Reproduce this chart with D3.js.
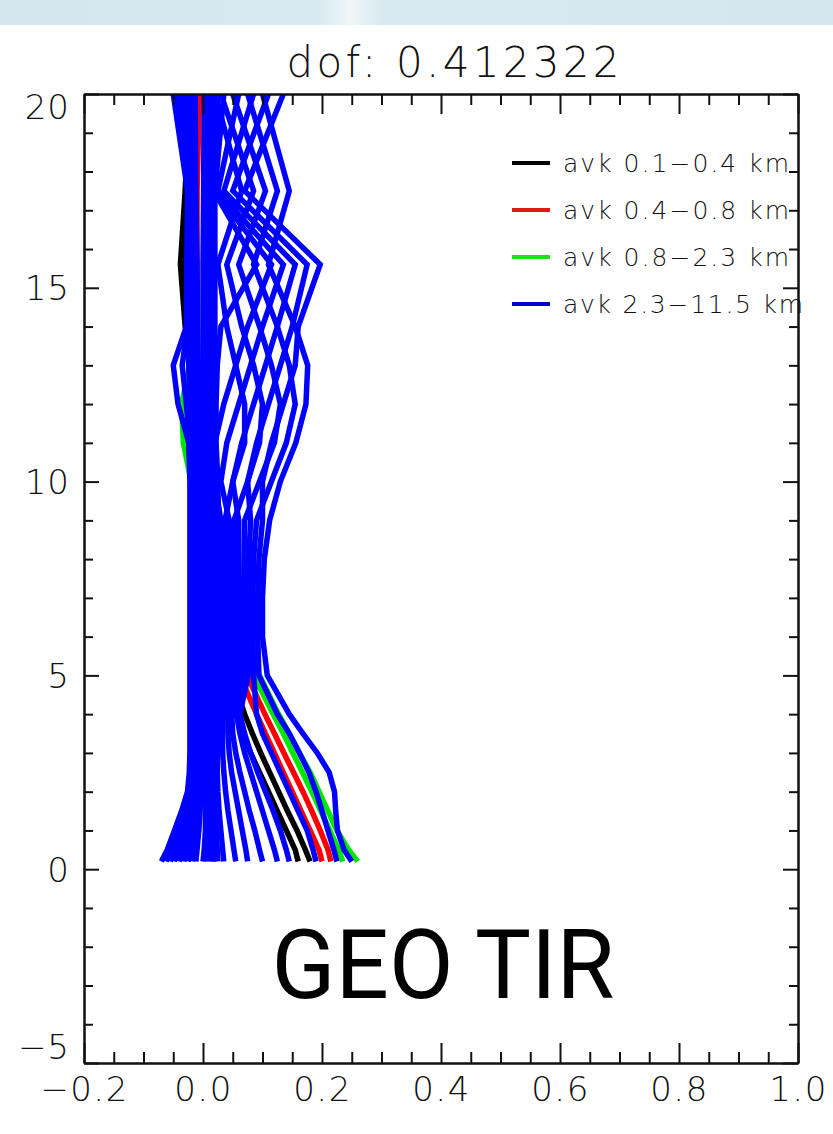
<!DOCTYPE html>
<html>
<head>
<meta charset="utf-8">
<script src="https://cdn.jsdelivr.net/npm/d3@7/dist/d3.min.js"></script>
<style>
  body { margin: 0; background: #fff; }
  svg { display: block; }
</style>
</head>
<body>
<div id="container"></div>
<script>
// altitude grid of the kernels (km)
let altitudes = [0.2, 0.5, 1.0, 1.5, 2.0, 2.5, 3.0, 3.5, 4.0, 5.0, 6.0, 7.0, 8.0, 9.0, 10.0, 11.0, 12.0, 13.0, 14.0, 15.6, 17.5, 20.0];

// kernel rows, one value per altitude
let avkBlack = [
  [0.16, 0.155, 0.14, 0.125, 0.11, 0.095, 0.08, 0.068, 0.055, 0.035, 0.02, 0.01, 0.0, -0.005, -0.01, -0.015, -0.02, -0.02, -0.03, -0.038, -0.03, -0.022],
  [0.18, 0.172, 0.158, 0.142, 0.127, 0.112, 0.097, 0.083, 0.07, 0.048, 0.03, 0.015, 0.005, 0.0, -0.005, -0.01, -0.015, -0.018, -0.025, -0.033, -0.026, -0.02]
];
let avkRed = [
  [0.2, 0.195, 0.18, 0.165, 0.15, 0.135, 0.12, 0.105, 0.09, 0.062, 0.04, 0.022, 0.01, 0.0, -0.008, -0.01, -0.011, -0.011, -0.011, -0.011, -0.01, -0.006],
  [0.215, 0.21, 0.197, 0.183, 0.168, 0.152, 0.136, 0.12, 0.104, 0.074, 0.048, 0.028, 0.014, 0.003, -0.007, -0.01, -0.01, -0.01, -0.01, -0.01, -0.011, -0.011]
];
let avkGreen = [
  [0.235, 0.228, 0.213, 0.198, 0.183, 0.167, 0.151, 0.135, 0.118, 0.085, 0.058, 0.036, 0.018, 0.005, -0.02, -0.033, -0.036, -0.022, -0.018, -0.018, -0.017, -0.018],
  [0.26, 0.245, 0.225, 0.21, 0.195, 0.18, 0.162, 0.145, 0.127, 0.095, 0.066, 0.04, 0.022, 0.008, -0.012, -0.028, -0.03, -0.02, -0.017, -0.017, -0.016, -0.017]
];
let avkBlue = [
  // core, left side
  [-0.07, -0.06, -0.048, -0.036, -0.026, -0.023, -0.022, -0.022, -0.022, -0.022, -0.022, -0.022, -0.022, -0.022, -0.022, -0.024, -0.042, -0.05, -0.028, -0.027, -0.026, -0.05],
  [-0.062, -0.054, -0.043, -0.032, -0.024, -0.021, -0.021, -0.021, -0.021, -0.021, -0.021, -0.021, -0.021, -0.021, -0.021, -0.022, -0.028, -0.035, -0.026, -0.025, -0.025, -0.045],
  [-0.055, -0.048, -0.038, -0.028, -0.022, -0.02, -0.02, -0.02, -0.02, -0.02, -0.02, -0.02, -0.02, -0.02, -0.02, -0.02, -0.022, -0.024, -0.025, -0.027, -0.024, -0.04],
  [-0.048, -0.042, -0.033, -0.024, -0.019, -0.018, -0.018, -0.018, -0.018, -0.018, -0.018, -0.018, -0.018, -0.018, -0.018, -0.018, -0.02, -0.021, -0.022, -0.024, -0.022, -0.035],
  [-0.04, -0.035, -0.028, -0.02, -0.016, -0.015, -0.015, -0.015, -0.016, -0.017, -0.017, -0.017, -0.017, -0.016, -0.016, -0.016, -0.017, -0.018, -0.02, -0.022, -0.02, -0.03],
  [-0.032, -0.028, -0.022, -0.016, -0.012, -0.013, -0.013, -0.013, -0.014, -0.014, -0.014, -0.014, -0.014, -0.014, -0.014, -0.014, -0.015, -0.016, -0.017, -0.019, -0.018, -0.025],
  [-0.025, -0.02, -0.015, -0.01, -0.008, -0.01, -0.012, -0.012, -0.012, -0.012, -0.012, -0.012, -0.012, -0.012, -0.012, -0.012, -0.012, -0.013, -0.014, -0.016, -0.016, -0.02],
  [-0.018, -0.015, -0.011, -0.008, -0.006, -0.008, -0.009, -0.01, -0.01, -0.01, -0.01, -0.009, -0.009, -0.009, -0.009, -0.01, -0.01, -0.011, -0.012, -0.013, -0.014, -0.016],
  [-0.012, -0.01, -0.007, -0.005, -0.004, -0.005, -0.006, -0.007, -0.007, -0.007, -0.007, -0.006, -0.006, -0.006, -0.006, -0.007, -0.007, -0.008, -0.009, -0.01, -0.012, -0.013],
  // core, right side
  [0.0, 0.002, 0.004, 0.004, 0.003, 0.002, 0.0, 0.0, 0.0, 0.0, 0.0, 0.0, 0.0, 0.0, 0.0, 0.0, 0.0, 0.0, 0.0, 0.0, 0.001, 0.002],
  [0.005, 0.006, 0.008, 0.008, 0.007, 0.006, 0.004, 0.004, 0.004, 0.005, 0.005, 0.005, 0.005, 0.005, 0.005, 0.005, 0.005, 0.005, 0.005, 0.005, 0.006, 0.007],
  [0.01, 0.011, 0.012, 0.011, 0.01, 0.009, 0.008, 0.008, 0.008, 0.009, 0.01, 0.01, 0.01, 0.01, 0.01, 0.01, 0.01, 0.01, 0.01, 0.01, 0.01, 0.012],
  [0.014, 0.015, 0.016, 0.015, 0.014, 0.013, 0.012, 0.012, 0.013, 0.015, 0.016, 0.016, 0.016, 0.015, 0.015, 0.015, 0.015, 0.015, 0.015, 0.015, 0.015, 0.017],
  [0.018, 0.02, 0.021, 0.02, 0.018, 0.017, 0.016, 0.016, 0.017, 0.02, 0.022, 0.022, 0.021, 0.02, 0.02, 0.02, 0.02, 0.02, 0.02, 0.02, 0.02, 0.022],
  [0.018, 0.017, 0.016, 0.015, 0.015, 0.016, 0.018, 0.02, 0.022, 0.024, 0.024, 0.024, 0.025, 0.026, 0.025, 0.022, 0.022, 0.024, 0.03, 0.09, 0.018, 0.025],
  // rows leaning right with height above 10 km
  [0.225, 0.22, 0.21, 0.2, 0.19, 0.178, 0.162, 0.145, 0.125, 0.094, 0.092, 0.092, 0.094, 0.1, 0.1, 0.115, 0.135, 0.155, 0.16, 0.197, 0.07, 0.135],
  [0.145, 0.14, 0.13, 0.118, 0.105, 0.092, 0.08, 0.07, 0.062, 0.076, 0.076, 0.076, 0.077, 0.08, 0.075, 0.09, 0.11, 0.13, 0.15, 0.175, 0.05, 0.11],
  [0.1, 0.095, 0.087, 0.078, 0.07, 0.062, 0.055, 0.05, 0.048, 0.06, 0.06, 0.06, 0.06, 0.06, 0.05, 0.065, 0.085, 0.105, 0.125, 0.155, 0.035, 0.085],
  [0.055, 0.052, 0.047, 0.042, 0.038, 0.035, 0.033, 0.033, 0.034, 0.044, 0.044, 0.044, 0.044, 0.044, 0.03, 0.04, 0.06, 0.08, 0.1, 0.135, 0.025, 0.06],
  [0.025, 0.024, 0.022, 0.02, 0.019, 0.019, 0.02, 0.022, 0.024, 0.029, 0.029, 0.029, 0.03, 0.03, 0.02, 0.02, 0.035, 0.055, 0.075, 0.115, 0.02, 0.035],
  // rows leaning left with height above 12 km
  [0.25, 0.237, 0.226, 0.223, 0.221, 0.212, 0.192, 0.168, 0.145, 0.108, 0.1, 0.1, 0.103, 0.112, 0.13, 0.156, 0.173, 0.176, 0.155, 0.11, 0.145, 0.1],
  [0.19, 0.185, 0.175, 0.16, 0.145, 0.13, 0.115, 0.1, 0.09, 0.085, 0.084, 0.084, 0.085, 0.09, 0.115, 0.14, 0.155, 0.145, 0.125, 0.085, 0.125, 0.075],
  [0.125, 0.12, 0.11, 0.1, 0.09, 0.08, 0.07, 0.062, 0.056, 0.068, 0.068, 0.068, 0.069, 0.07, 0.095, 0.12, 0.13, 0.115, 0.095, 0.06, 0.105, 0.05],
  [0.075, 0.072, 0.066, 0.06, 0.054, 0.048, 0.044, 0.042, 0.042, 0.052, 0.052, 0.052, 0.052, 0.052, 0.075, 0.095, 0.1, 0.085, 0.065, 0.04, 0.085, 0.03],
  [0.035, 0.033, 0.03, 0.027, 0.025, 0.024, 0.024, 0.025, 0.027, 0.036, 0.036, 0.036, 0.036, 0.037, 0.05, 0.07, 0.07, 0.055, 0.04, 0.025, 0.065, 0.02]
];

let legendLabels = ["avk 0.1\u22120.4 km", "avk 0.4\u22120.8 km", "avk 0.8\u22122.3 km", "avk 2.3\u221211.5 km"];
let xTicks = [-0.2, 0.0, 0.2, 0.4, 0.6, 0.8, 1.0];
let yTicks = [-5, 0, 5, 10, 15, 20];
let titleText = "dof: 0.412322";
let stampText = "GEO TIR";

let w = 833;
let h = 1134;
let plotLeft = 84, plotRight = 798, plotTop = 94, plotBottom = 1063;
let thinFont = "'DejaVu Sans', sans-serif";

let viz = d3.select("#container")
  .append("svg")
    .attr("width", w)
    .attr("height", h)
;

// the light blue strip of the slide behind the plot
let band = viz.append("defs").append("linearGradient").attr("id", "band");
band.append("stop").attr("offset", "0%").attr("stop-color", "#d3e6ee");
band.append("stop").attr("offset", "38%").attr("stop-color", "#d8e9f0");
band.append("stop").attr("offset", "42%").attr("stop-color", "#eef6f9");
band.append("stop").attr("offset", "46%").attr("stop-color", "#d9e9f0");
band.append("stop").attr("offset", "100%").attr("stop-color", "#d3e6ee");
viz.append("rect").attr("x", 0).attr("y", 0).attr("width", w).attr("height", 25).attr("fill", "url(#band)");

let xScale = d3.scaleLinear().domain([-0.2, 1.0]).range([plotLeft, plotRight]);
let yScale = d3.scaleLinear().domain([-5, 20]).range([plotBottom, plotTop]);

viz.select("defs").append("clipPath").attr("id", "plotclip")
  .append("rect")
    .attr("x", plotLeft).attr("y", plotTop)
    .attr("width", plotRight - plotLeft).attr("height", plotBottom - plotTop);

// kernels: black first, blue last so blue sits on top like in the IDL plot
let groups = [
  {rows: avkBlack, color: "#000000"},
  {rows: avkRed, color: "#ff0000"},
  {rows: avkGreen, color: "#00e600"},
  {rows: avkBlue, color: "#0000ff"}
];

let kernelLine = d3.line()
  .x(function(d){ return xScale(d); })
  .y(function(d, i){ return yScale(altitudes[i]); });

let graphGroup = viz.append("g").classed("graphGroup", true).attr("clip-path", "url(#plotclip)");

groups.forEach(function(g){
  graphGroup.append("g")
    .selectAll("path")
    .data(g.rows)
    .enter()
    .append("path")
      .attr("d", kernelLine)
      .attr("fill", "none")
      .attr("stroke", g.color)
      .attr("stroke-width", 5.5)
      .attr("stroke-linejoin", "miter")
      .attr("stroke-miterlimit", 10);
});

// minor tick positions (every 0.05 and every 1 km)
let xMinor = d3.range(0, 25).filter(i => i % 4 != 0).map(i => -0.2 + i * 0.05);
let yMinor = d3.range(-5, 21).filter(v => v % 5 != 0);

function styleAxis(sel){
  sel.select(".domain").attr("stroke", "#111").attr("stroke-width", 2);
  sel.selectAll(".tick line").attr("stroke", "#111").attr("stroke-width", 2);
  sel.selectAll("text")
    .attr("font-family", thinFont)
    .attr("font-weight", 200)
    .attr("font-size", 34)
    .attr("fill", "#111");
}

// bottom
let xAxis = d3.axisBottom(xScale).tickValues(xTicks).tickSize(-20).tickSizeOuter(0).tickPadding(14)
  .tickFormat(d3.format(".1f"));
let xAxisGroup = viz.append("g").attr("transform", "translate(0," + plotBottom + ")").call(xAxis);
styleAxis(xAxisGroup);
xAxisGroup.selectAll("text").attr("letter-spacing", 1.5);
let xMinorGroup = viz.append("g").attr("transform", "translate(0," + plotBottom + ")")
  .call(d3.axisBottom(xScale).tickValues(xMinor).tickSize(-11).tickSizeOuter(0).tickFormat(""));
styleAxis(xMinorGroup);

// top
let topGroup = viz.append("g").attr("transform", "translate(0," + plotTop + ")")
  .call(d3.axisTop(xScale).tickValues(xTicks).tickSize(-20).tickSizeOuter(0).tickFormat(""));
styleAxis(topGroup);
let topMinor = viz.append("g").attr("transform", "translate(0," + plotTop + ")")
  .call(d3.axisTop(xScale).tickValues(xMinor).tickSize(-11).tickSizeOuter(0).tickFormat(""));
styleAxis(topMinor);

// left
let yAxis = d3.axisLeft(yScale).tickValues(yTicks).tickSize(-15).tickSizeOuter(0).tickPadding(14)
  .tickFormat(d3.format("d"));
let yAxisGroup = viz.append("g").attr("transform", "translate(" + plotLeft + ",0)").call(yAxis);
styleAxis(yAxisGroup);
yAxisGroup.selectAll("text")
  .attr("letter-spacing", 1)
  .attr("dy", function(d){ return d == 20 ? "0.72em" : (d == -5 ? "-0.12em" : "0.35em"); });
let yMinorGroup = viz.append("g").attr("transform", "translate(" + plotLeft + ",0)")
  .call(d3.axisLeft(yScale).tickValues(yMinor).tickSize(-9).tickSizeOuter(0).tickFormat(""));
styleAxis(yMinorGroup);

// right
let rightGroup = viz.append("g").attr("transform", "translate(" + plotRight + ",0)")
  .call(d3.axisRight(yScale).tickValues(yTicks).tickSize(-15).tickSizeOuter(0).tickFormat(""));
styleAxis(rightGroup);
let rightMinor = viz.append("g").attr("transform", "translate(" + plotRight + ",0)")
  .call(d3.axisRight(yScale).tickValues(yMinor).tickSize(-9).tickSizeOuter(0).tickFormat(""));
styleAxis(rightMinor);

// title
viz.append("text")
  .attr("x", 453).attr("y", 77)
  .attr("text-anchor", "middle")
  .attr("font-family", thinFont)
  .attr("font-weight", 200)
  .attr("font-size", 42)
  .attr("textLength", 333)
  .attr("lengthAdjust", "spacing")
  .attr("fill", "#111")
  .text(titleText);

// legend
let legendColors = ["#000000", "#e01818", "#1ee01e", "#0000c8"];
let legendWidths = [226, 226, 226, 240];
let legend = viz.append("g").classed("legend", true);
let legendItems = legend.selectAll("g").data(legendLabels).enter().append("g")
  .attr("transform", function(d, i){ return "translate(512," + (163 + i * 47) + ")"; });
legendItems.append("line")
  .attr("x1", 0).attr("x2", 38).attr("y1", 0).attr("y2", 0)
  .attr("stroke", (d, i) => legendColors[i])
  .attr("stroke-width", 4);
legendItems.append("text")
  .attr("x", 51).attr("y", 9)
  .attr("font-family", thinFont)
  .attr("font-weight", 200)
  .attr("font-size", 25)
  .attr("textLength", (d, i) => legendWidths[i])
  .attr("lengthAdjust", "spacing")
  .attr("fill", "#111")
  .text(d => d);

// the big label pasted on the slide
viz.append("text")
  .attr("x", 443).attr("y", 998)
  .attr("text-anchor", "middle")
  .attr("font-family", "Roboto, 'Open Sans', sans-serif")
  .attr("font-size", 96)
  .attr("textLength", 343)
  .attr("lengthAdjust", "spacingAndGlyphs")
  .attr("fill", "#000")
  .text(stampText);
</script>
</body>
</html>
